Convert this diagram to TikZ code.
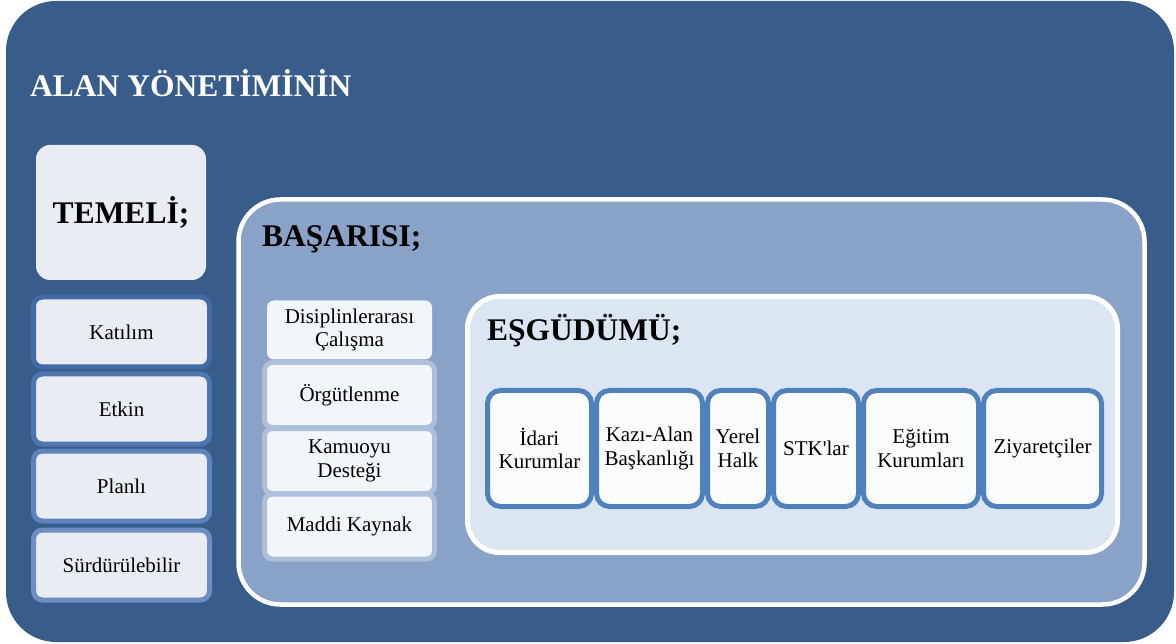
\documentclass[tikz,border=0pt]{standalone}
\usepackage{fontspec}
\setmainfont{Liberation Serif}
\definecolor{outerblue}{RGB}{56,93,138}
\definecolor{midblue}{RGB}{137,162,200}
\definecolor{paleblue}{RGB}{220,230,242}
\definecolor{itemframe}{RGB}{79,129,189}
\definecolor{itemfill}{RGB}{250,251,253}
\definecolor{leftfill}{RGB}{233,236,242}
\definecolor{midfill}{RGB}{242,245,250}
\definecolor{midframe}{RGB}{174,191,219}
\definecolor{lfA}{RGB}{66,106,164}
\definecolor{lfB}{RGB}{78,118,176}
\definecolor{lfC}{RGB}{92,131,188}
\definecolor{lfD}{RGB}{108,142,194}
\tikzset{
  headtext/.style={font=\fontsize{31.5}{34}\selectfont\bfseries, inner sep=0pt},
  bodytext/.style={font=\fontsize{21}{23.5}\selectfont, align=center, inner sep=0pt},
  leftitem/.style={bodytext, draw=#1, line width=5pt, fill=leftfill, rounded corners=9pt,
    minimum width=176pt, minimum height=70pt},
  miditem/.style={bodytext, draw=midframe, line width=5pt, fill=midfill, rounded corners=8pt,
    minimum width=170pt, minimum height=65pt},
  coitem/.style={bodytext, draw=itemframe, line width=5pt, fill=itemfill, rounded corners=13pt,
    minimum height=116pt},
}
\begin{document}
\begin{tikzpicture}[x=1pt,y=-1pt]
\useasboundingbox (0,0) rectangle (1176,644);
% outer panel
\fill[outerblue, rounded corners=50pt] (6,1) rectangle (1174,642);
\node[headtext, text=white, anchor=base west] (alan) at (30,97) {ALAN YÖNETİMİNİN};
% TEMELI column
\node[fill=leftfill, rounded corners=14pt, minimum width=170pt, minimum height=135pt,
  headtext, text depth=0pt, text height=22pt] (temel) at (121,212.5) {TEMELİ;};
\node[leftitem=lfA] (katilim) at (121.5,332) {Katılım};
\node[leftitem=lfB] (etkin) at (121.5,409) {Etkin};
\node[leftitem=lfC] (planli) at (121.5,486) {Planlı};
\node[leftitem=lfD] (surd) at (121.5,565) {Sürdürülebilir};
% BASARISI panel
\node[draw=white, line width=4.5pt, fill=midblue, rounded corners=42pt,
  minimum width=906pt, minimum height=405pt] (basari) at (691.5,402) {};
\node[headtext, anchor=base west] (basaritext) at (262,247) {BAŞARISI;};
% middle column
\node[bodytext, fill=midfill, rounded corners=7pt, minimum width=165pt, minimum height=59pt]
  (disiplin) at (349.5,330) {Disiplinlerarası\\Çalışma};
\node[miditem] (orgut) at (349.5,395) {Örgütlenme};
\node[miditem] (kamuoyu) at (349.5,461) {Kamuoyu\\Desteği};
\node[miditem] (maddi) at (349.5,526.5) {Maddi Kaynak};
% ESGUDUMU panel
\node[draw=white, line width=5pt, fill=paleblue, rounded corners=32pt,
  minimum width=650pt, minimum height=256pt] (esgudum) at (792.5,424.5) {};
\node[headtext, anchor=base west] (esgudumtext) at (487,341) {EŞGÜDÜMÜ;};
% stakeholder boxes
\node[coitem, minimum width=104pt] (idari) at (539.5,448.5) {İdari\\Kurumlar};
\node[coitem, minimum width=106pt] (kazi) at (649.5,448.5) {Kazı-Alan\\Başkanlığı};
\node[coitem, minimum width=61pt] (yerel) at (738,448.5) {Yerel\\Halk};
\node[coitem, minimum width=85pt] (stk) at (816,448.5) {STK\textquotesingle lar};
\node[coitem, minimum width=115pt] (egitim) at (921,448.5) {Eğitim\\Kurumları};
\node[coitem, minimum width=118pt] (ziyaret) at (1042.5,448.5) {Ziyaretçiler};
\end{tikzpicture}
\end{document}
